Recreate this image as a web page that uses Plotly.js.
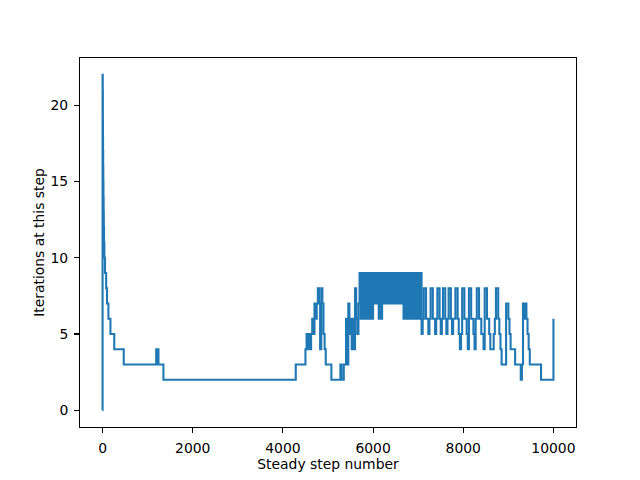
<!DOCTYPE html>
<html>
<head>
<meta charset="utf-8">
<script src="https://cdn.plot.ly/plotly-3.0.1.min.js"></script>
<style>html,body{margin:0;padding:0;background:#fff;}#chart{width:640px;height:480px;}</style>
</head>
<body>
<div id="chart"></div>
<script>
// Early steps: change points (step number, iterations)
const headX = [0, 1, 2, 3, 4, 5, 7, 9, 11, 14, 17, 20, 24, 28, 33, 40, 55, 80, 100, 130, 175, 260, 470, 1190, 1205, 1220, 1240, 1350, 4285];
const headY = [0, 22, 17, 22, 18, 21, 19, 18, 17, 16, 15, 14, 13, 12, 11, 10, 9, 8, 7, 6, 5, 4, 3, 4, 3, 4, 3, 2, 3];

// Later steps: values read every 25 steps from step 4500 to 10000
const sampleStart = 4500;
const sampleStep = 25;
const sampleY = [
  4,5,4,5,4,5,6,5,7,6,
  7,8,7,4,8,7,5,4,3,3,
  3,3,3,2,2,2,2,2,2,2,
  2,3,2,2,3,3,6,3,7,5,
  6,4,6,4,8,6,5,7,9,6,
  9,6,9,6,9,6,9,6,9,6,
  9,7,9,7,9,6,9,6,9,7,
  9,7,9,7,9,7,9,7,9,7,
  9,7,9,7,9,7,9,6,9,6,
  9,6,9,6,9,6,9,6,9,6,
  9,6,9,5,6,8,8,6,6,5,
  6,8,8,6,6,5,6,8,8,6,
  5,6,8,8,6,5,6,8,8,6,
  5,6,6,8,8,6,5,4,5,8,
  8,6,6,5,4,8,8,6,6,5,
  4,6,8,8,6,6,5,5,4,8,
  8,6,6,5,4,4,4,5,6,8,
  8,6,5,4,3,3,3,3,7,7,
  6,5,4,4,4,4,3,3,3,3,
  3,2,3,7,6,7,6,5,4,3,
  3,3,3,3,3,3,3,3,3,2,
  2,2,2,2,2,2,2,2,2,2,
  6
];
const tailX = [10000];
const tailY = [5];

const xTicks = [0, 2000, 4000, 6000, 8000, 10000];
const yTicks = [0, 5, 10, 15, 20];

const xs = headX.slice();
const ys = headY.slice();
sampleY.forEach((v, i) => { xs.push(sampleStart + i * sampleStep); ys.push(v); });
tailX.forEach((v, i) => { xs.push(v); ys.push(tailY[i]); });

const font = {family: 'DejaVu Sans, sans-serif', size: 13.9, color: '#000'};
const axisCommon = {
  showgrid: false, zeroline: false, showline: true, mirror: true,
  linecolor: '#000', linewidth: 1.1,
  ticks: 'outside', ticklen: 4.9, tickwidth: 1.1, tickcolor: '#000',
  tickfont: font, tickmode: 'array', automargin: false
};

Plotly.newPlot('chart', [{
  x: xs, y: ys, type: 'scatter', mode: 'lines',
  line: {color: '#1f77b4', width: 2.08, shape: 'hv'},
  hoverinfo: 'skip'
}], {
  width: 640, height: 480,
  margin: {l: 80, r: 64, t: 58, b: 53},
  paper_bgcolor: '#fff', plot_bgcolor: '#fff',
  showlegend: false,
  font: font,
  xaxis: Object.assign({}, axisCommon, {
    range: [-500, 10500], tickvals: xTicks, ticktext: xTicks.map(String),
    ticklabelstandoff: 3,
    title: {text: 'Steady step number', font: font, standoff: 2}
  }),
  yaxis: Object.assign({}, axisCommon, {
    range: [-1.1, 23.1], tickvals: yTicks, ticktext: yTicks.map(String),
    ticklabelstandoff: 3,
    title: {text: 'Iterations at this step', font: font, standoff: 2}
  })
}, {staticPlot: true, displayModeBar: false});
</script>
</body>
</html>
